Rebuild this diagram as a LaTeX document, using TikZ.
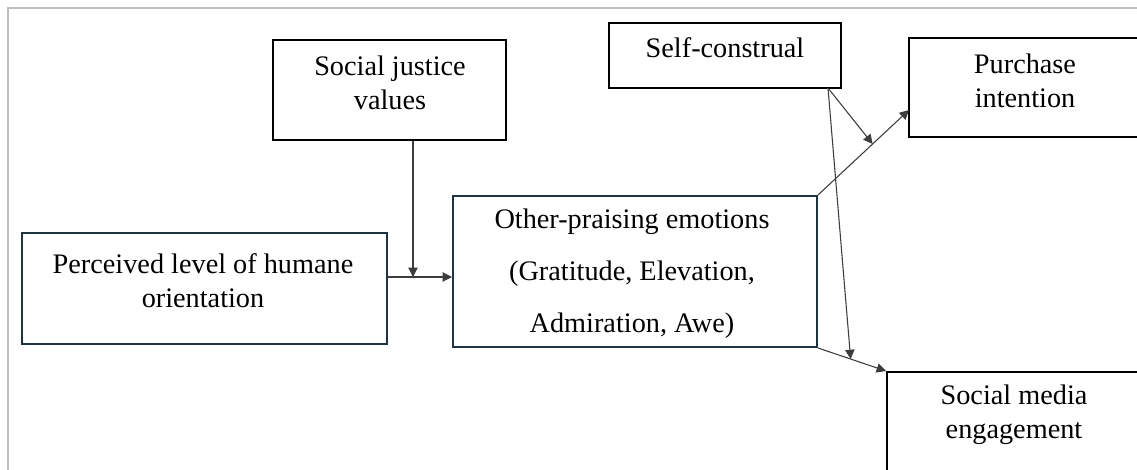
\documentclass[tikz,border=0pt]{standalone}
\usepackage{fontspec}
\setmainfont{Liberation Serif}
\usetikzlibrary{arrows.meta,calc}
\definecolor{navy}{RGB}{28,52,68}
\definecolor{framegray}{RGB}{190,190,190}
\definecolor{linegray}{RGB}{60,60,60}
\begin{document}
\begin{tikzpicture}[x=0.75pt,y=-0.75pt,
  boxblack/.style={draw=black,line width=1.5pt,rectangle,inner sep=0pt},
  boxnavy/.style={draw=navy,line width=1.5pt,rectangle,inner sep=0pt},
  lbl/.style={align=center,inner sep=0pt,font=\fontsize{21.2}{25.5}\selectfont},
  arr/.style={draw=linegray,line width=0.8pt,-{Triangle[length=7pt,width=7pt]}}]
\useasboundingbox (0,0) rectangle (1137,470);
\clip (0,0) rectangle (1137,470);
\fill[white] (0,0) rectangle (1137,470);
\draw[framegray,line width=1.3pt] (8,480) -- (8,8) -- (1150,8);
% boxes
\node[boxblack,minimum width=174.75pt,minimum height=75pt] (sj) at (389.5,90) {};
\node[lbl] (sjt) at (390,82.5) {Social justice\\values};
\node[boxnavy,minimum width=273.75pt,minimum height=83.25pt] (hum) at (204.5,288.5) {};
\node[lbl] (humt) at (203,280.5) {Perceived level of humane\\orientation};
\node[boxnavy,minimum width=273pt,minimum height=113.25pt] (emo) at (635,271.5) {};
\node[lbl,font=\fontsize{21.2}{39}\selectfont] (emot) at (632,274) {Other-praising emotions\\(Gratitude, Elevation,\\Admiration, Awe)};
\node[boxblack,minimum width=174pt,minimum height=48.75pt] (sc) at (725,55.5) {};
\node[lbl] (sct) at (725,48) {Self-construal};
\node[boxblack,minimum width=174pt,minimum height=74.25pt] (pur) at (1025,87.5) {};
\node[lbl] (purt) at (1025,80.5) {Purchase\\intention};
\node[boxblack,minimum width=190.5pt,minimum height=112.5pt] (sme) at (1014,447) {};
\node[lbl] (smet) at (1014,415) {Social media\\engagement};
% connector points
\coordinate (j1) at (413,277);
\coordinate (pin) at (909,110);
\coordinate (scout) at (828,88);
% arrows
\draw[arr] (hum.east |- j1) -- (emo.west |- j1);
\draw[arr] (sj.south -| j1) -- (j1);
\draw[arr] (emo.north east) -- (pin);
\draw[arr] (scout) -- ($(emo.north east)!0.6!(pin)$);
\draw[arr] (emo.south east) -- (sme.north west);
\draw[arr] (scout) -- ($(emo.south east)!0.48!(sme.north west)$);
\end{tikzpicture}
\end{document}
